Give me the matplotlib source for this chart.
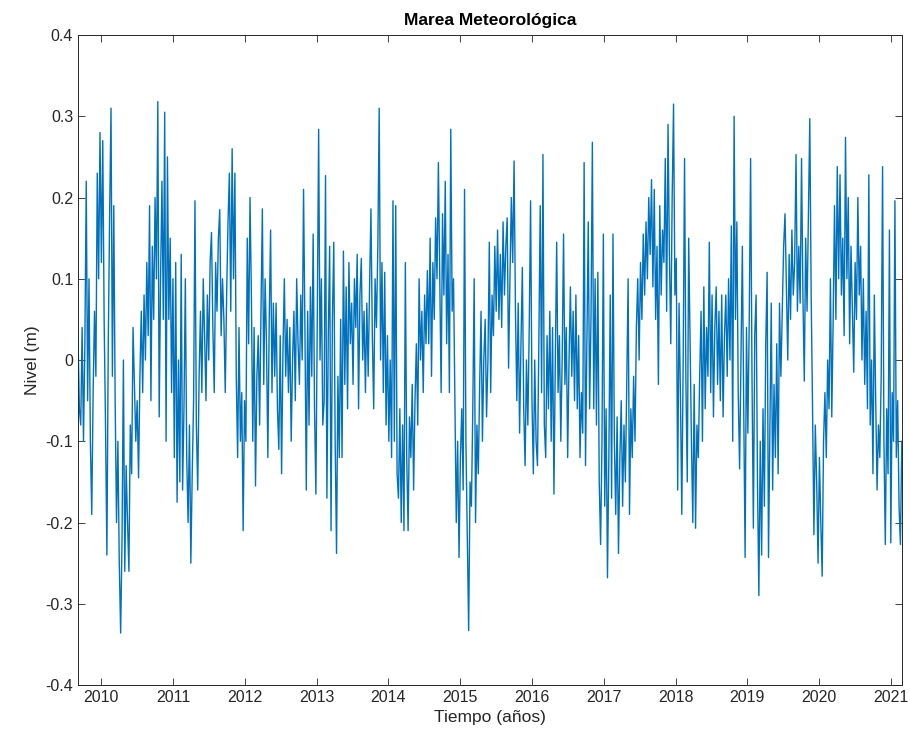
import matplotlib
matplotlib.use("Agg")
import matplotlib.pyplot as plt
import numpy as np
import pandas as pd

# Weekly storm-surge levels (m) in consecutive blocks
seg1 = [0.03, -0.06, -0.08, 0.04, -0.10, 0.02, 0.22, -0.05, 0.10, -0.10, -0.19, -0.04, 0.06, -0.02, 0.23,
        0.10, 0.28, 0.12, 0.27, 0.05, -0.08, -0.24, 0.02, 0.18, 0.31, -0.02, 0.19, -0.05, -0.20, -0.10,
        -0.25, -0.336, -0.22, 0.0, -0.26, -0.13, -0.20, -0.26, -0.08, -0.14, 0.04, -0.03, -0.10, -0.05, -0.145,
        -0.02, 0.06, -0.04, 0.08, 0.0, 0.12, 0.03, 0.19, -0.05, 0.14, 0.05, 0.20, 0.10, 0.318, -0.07]
seg2 = [0.10, 0.22, 0.05, 0.305, -0.10, 0.25, 0.05, 0.15, -0.04, 0.10, -0.12, 0.12, -0.175, 0.0, -0.15,
        0.13, -0.16, -0.06, 0.10, -0.12, -0.20, -0.08, -0.25, -0.14, -0.05, 0.196, -0.08, -0.16, -0.02, 0.06,
        -0.04, 0.10, 0.03, -0.05, 0.08, 0.0, 0.12, 0.157, 0.04, -0.04, 0.12, 0.06, 0.15, 0.185, 0.03,
        0.10, 0.05, -0.04, 0.08, 0.17, 0.23, 0.06, 0.26, 0.10, 0.23, -0.02, -0.12, 0.04, -0.10, -0.04]
seg3 = [-0.21, -0.05, -0.10, 0.15, 0.02, 0.20, 0.08, -0.10, 0.04, -0.155, -0.02, 0.03, -0.08, 0.06, 0.186,
        -0.03, 0.10, 0.02, -0.12, 0.05, 0.16, -0.04, 0.07, -0.02, 0.07, -0.06, -0.11, 0.03, -0.14, 0.01,
        0.10, -0.02, 0.05, -0.04, 0.04, -0.10, 0.0, 0.06, -0.05, 0.10, 0.02, -0.03, 0.08, 0.0, 0.21,
        0.04, -0.16, 0.06, -0.08, 0.09, -0.02, 0.155, -0.06, -0.165, 0.05, 0.284, 0.0, 0.10, -0.08]
seg4 = [-0.05, 0.227, -0.17, 0.03, 0.14, -0.21, 0.05, 0.145, -0.10, -0.238, -0.02, -0.12, 0.05, -0.12, 0.134,
        -0.03, 0.09, -0.06, 0.12, 0.02, 0.07, -0.03, 0.10, 0.04, 0.13, -0.06, 0.08, 0.125, 0.0, 0.06,
        -0.04, 0.07, -0.02, 0.09, 0.186, 0.03, -0.06, 0.10, 0.04, 0.14, 0.31, 0.0, 0.12, -0.04, 0.108,
        -0.08, 0.03, -0.10, 0.0, -0.12, 0.196, -0.10, 0.19, -0.14, -0.17, -0.06, -0.20, -0.08, -0.21, 0.12]
seg5 = [-0.12, -0.21, -0.07, -0.12, -0.03, -0.16, -0.05, 0.02, -0.08, 0.10, 0.0, 0.06, -0.04, 0.08, 0.02,
        0.11, 0.02, 0.15, -0.02, 0.12, 0.05, 0.175, 0.10, 0.243, 0.10, -0.04, 0.18, 0.08, 0.22, 0.02,
        0.13, -0.04, 0.284, 0.06, 0.10, -0.05, -0.20, -0.10, -0.243, -0.12, -0.06, -0.16, 0.21, -0.10, -0.22,
        -0.333, -0.15, -0.18, -0.06, 0.10, -0.20, -0.08, -0.14, -0.03, 0.06, -0.10, 0.0, 0.05, -0.07]
seg6 = [0.0, 0.145, -0.04, 0.08, 0.03, 0.14, 0.06, 0.16, 0.05, 0.13, 0.04, 0.17, 0.08, 0.14, 0.175,
        -0.01, 0.10, 0.20, 0.12, 0.245, 0.06, -0.05, 0.07, -0.09, 0.02, 0.114, -0.06, -0.13, 0.0, -0.08,
        0.04, 0.196, -0.05, -0.14, 0.0, -0.10, -0.13, 0.02, 0.19, -0.04, 0.253, -0.08, -0.12, 0.03, -0.06,
        0.06, -0.10, 0.04, -0.165, 0.0, 0.145, -0.04, 0.03, -0.10, 0.0, 0.155, -0.03, 0.04, -0.12, 0.0, 0.09]
seg7 = [-0.02, 0.06, -0.05, 0.08, -0.06, 0.03, -0.12, -0.04, -0.09, 0.243, -0.13, 0.02, 0.17, -0.06, 0.05,
        0.268, -0.06, 0.10, -0.08, 0.108, -0.15, -0.227, -0.10, 0.155, -0.18, -0.06, -0.268, -0.12, 0.08, -0.17,
        0.155, -0.10, -0.19, -0.07, -0.238, -0.12, -0.05, -0.18, -0.08, -0.15, -0.03, 0.10, -0.19, -0.06, -0.12,
        -0.02, -0.10, 0.04, 0.10, 0.0, 0.12, 0.05, 0.155, 0.08, 0.17, 0.10, 0.20, 0.13, 0.222, 0.09]
seg8 = [0.21, 0.05, 0.14, -0.03, 0.19, 0.08, 0.16, 0.12, 0.248, 0.06, 0.29, 0.13, 0.02, 0.20, 0.315,
        0.08, 0.125, -0.16, 0.07, -0.04, -0.19, 0.0, 0.248, -0.03, -0.15, 0.15, 0.02, -0.10, -0.20, -0.03,
        -0.207, -0.08, -0.12, -0.02, 0.06, -0.10, 0.09, -0.06, 0.04, -0.02, 0.145, -0.04, 0.08, -0.07, 0.04,
        0.09, -0.03, 0.06, -0.05, 0.08, -0.07, 0.03, 0.08, -0.02, 0.10, 0.0, 0.165, -0.10, 0.30]
seg9 = [0.05, 0.17, -0.04, -0.134, 0.0, 0.14, -0.06, -0.243, 0.04, -0.09, 0.05, 0.248, -0.02, -0.207, 0.03,
        0.08, -0.15, -0.29, -0.10, -0.24, -0.06, -0.18, 0.02, 0.108, -0.243, -0.08, 0.07, -0.16, -0.03, -0.12,
        0.02, -0.14, 0.07, -0.02, 0.06, 0.14, 0.18, 0.09, 0.0, 0.13, 0.05, 0.16, 0.08, 0.12, 0.253,
        0.06, 0.14, 0.07, 0.248, 0.08, -0.026, 0.15, 0.06, 0.18, 0.297, 0.08, -0.06, -0.215, -0.08, -0.15]
seg10 = [-0.25, -0.12, -0.20, -0.266, -0.10, -0.04, -0.12, 0.0, -0.06, 0.10, -0.07, 0.05, 0.19, 0.05, 0.238,
         0.10, 0.228, 0.08, 0.15, 0.03, 0.274, 0.10, 0.20, 0.02, 0.14, 0.06, -0.015, 0.12, 0.05, 0.20,
         0.08, 0.14, 0.0, 0.10, -0.03, 0.06, -0.06, 0.228, -0.08, 0.0, -0.14, 0.08, -0.05, -0.16, -0.08,
         -0.12, -0.02, 0.238, -0.10, -0.227, -0.06, -0.14, 0.16, -0.225, -0.04, -0.10, 0.196, -0.12, -0.05, -0.18,
         -0.227, -0.10]

start_date = "2009-09-04"
year_ticks = list(range(2010, 2022))
y_ticks = [-0.4, -0.3, -0.2, -0.1, 0.0, 0.1, 0.2, 0.3, 0.4]
y_tick_labels = ["-0.4", "-0.3", "-0.2", "-0.1", "0", "0.1", "0.2", "0.3", "0.4"]

nivel = np.array(seg1 + seg2 + seg3 + seg4 + seg5 + seg6 + seg7 + seg8 + seg9 + seg10)
dates = pd.date_range(start_date, periods=len(nivel), freq="7D")
t = dates.year + (dates.dayofyear - 1) / np.where(dates.is_leap_year, 366.0, 365.0)

plt.rcParams["font.family"] = ["Liberation Sans", "DejaVu Sans"]
plt.rcParams["axes.unicode_minus"] = False

fig = plt.figure(figsize=(9.10, 7.45), dpi=100)
ax = fig.add_axes([0.0857, 0.0805, 0.9053, 0.8725])
ax.plot(t, nivel, color="#0072BD", lw=1.0)

ax.set_xlim(t.min(), t.max())
ax.set_ylim(-0.4, 0.4)
ax.set_xticks(year_ticks)
ax.set_xticklabels([str(y) for y in year_ticks])
ax.set_yticks(y_ticks)
ax.set_yticklabels(y_tick_labels)

ax.tick_params(direction="in", top=True, right=True, length=5, width=0.6,
               labelsize=11.5, colors="#262626")
for s in ax.spines.values():
    s.set_color("#262626")
    s.set_linewidth(0.7)

ax.set_title("Marea Meteorológica", fontsize=12.5, fontweight="bold", color="black", pad=7)
ax.set_xlabel("Tiempo (años)", fontsize=12.5, color="#262626")
ax.set_ylabel("Nivel (m)", fontsize=12.5, color="#262626")

fig.savefig("out.png", dpi=100)
